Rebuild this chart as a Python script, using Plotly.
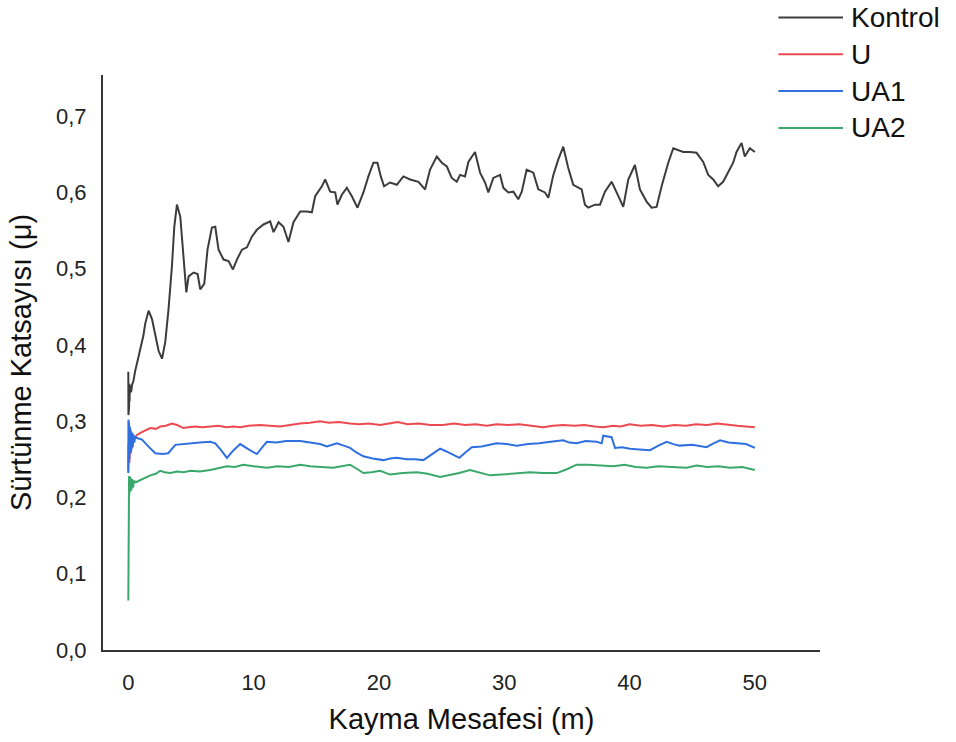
import plotly.graph_objects as go

# ---------------- data ----------------
kontrol_x = [0, 0.01, 0.02, 0.03, 0.04, 0.06, 0.08, 0.1, 0.12, 0.16, 0.2, 0.24, 0.3, 0.4, 0.55, 0.69, 0.82,
             0.96, 1.2, 1.35, 1.49, 1.62, 1.89, 2.15,
             2.42, 2.69, 2.95, 3.21, 3.48, 3.67, 3.88, 4.15, 4.36, 4.63, 4.81, 5.21, 5.53, 5.74, 6.06,
             6.32, 6.67, 6.94, 7.2, 7.6, 8.0, 8.35, 8.67, 9.07, 9.47, 9.86, 10.26, 10.79, 11.32, 11.59,
             11.99, 12.38, 12.78, 13.18, 13.72, 14.25, 14.65, 14.91, 15.45, 15.71, 16.11, 16.51, 16.69,
             17.04, 17.44, 17.84, 18.29, 18.76, 19.16, 19.56, 19.88, 20.15, 20.41, 20.89, 21.43, 21.95,
             22.49, 23.15, 23.68, 24.08, 24.62, 25.02, 25.42, 25.81, 26.21, 26.48, 26.87, 27.14, 27.67,
             28.07, 28.47, 28.73, 29.13, 29.67, 29.93, 30.33, 30.73, 31.12, 31.4, 31.79, 32.32, 32.72,
             33.25, 33.52, 33.92, 34.31, 34.71, 35.11, 35.51, 36.18, 36.44, 36.71, 37.24, 37.64, 38.04,
             38.57, 38.97, 39.5, 39.9, 40.43, 40.83, 41.36, 41.76, 42.16, 42.56, 43.09, 43.49, 44.28,
             44.82, 45.35, 45.88, 46.28, 46.68, 47.07, 47.47, 47.87, 48.27, 48.54, 48.94, 49.2, 49.6, 50.0]
kontrol_y = [0.365, 0.308, 0.356, 0.312, 0.345, 0.318, 0.349, 0.326, 0.345, 0.347, 0.338, 0.34, 0.348,
             0.352, 0.366, 0.378, 0.385, 0.395, 0.412, 0.428, 0.438, 0.445,
             0.434, 0.412, 0.392, 0.382, 0.404, 0.447, 0.503, 0.555, 0.584, 0.568, 0.522, 0.469, 0.49,
             0.495, 0.493, 0.473, 0.48, 0.525, 0.554, 0.555, 0.525, 0.512, 0.51, 0.499, 0.512, 0.525,
             0.528, 0.542, 0.551, 0.558, 0.562, 0.548, 0.561, 0.555, 0.535, 0.561, 0.575, 0.575, 0.574,
             0.595, 0.608, 0.617, 0.601, 0.6, 0.584, 0.597, 0.606, 0.595, 0.58, 0.6, 0.621, 0.639, 0.639,
             0.621, 0.608, 0.613, 0.61, 0.621, 0.617, 0.614, 0.604, 0.63, 0.647, 0.639, 0.634, 0.619,
             0.614, 0.623, 0.621, 0.64, 0.653, 0.626, 0.613, 0.6, 0.619, 0.623, 0.606, 0.6, 0.601, 0.591,
             0.601, 0.63, 0.626, 0.604, 0.6, 0.593, 0.623, 0.643, 0.66, 0.632, 0.61, 0.604, 0.584, 0.58,
             0.584, 0.584, 0.601, 0.614, 0.6, 0.581, 0.617, 0.636, 0.604, 0.588, 0.58, 0.581, 0.608,
             0.639, 0.658, 0.653, 0.653, 0.652, 0.64, 0.623, 0.617, 0.608, 0.614, 0.626, 0.639, 0.653,
             0.665, 0.647, 0.658, 0.653]

u_x = [0, 0.02, 0.04, 0.06, 0.08, 0.1, 0.13, 0.16, 0.2, 0.25, 0.3, 0.4, 0.5, 0.69, 1.0, 1.4, 1.75, 2.2,
       2.55, 3.0, 3.48, 3.9, 4.39, 4.8, 5.34, 5.9, 6.54, 7.2, 7.8, 8.4, 8.93, 9.6, 10.5, 11.2, 12.1, 12.9,
       13.7, 14.5, 15.3, 16.0, 16.8, 17.7, 18.4, 19.2, 20.1, 20.8, 21.5, 22.3, 23.2, 24.1, 25.1, 26.0,
       26.9, 27.7, 28.6, 29.4, 30.3, 31.2, 32.1, 33.1, 33.9, 34.7, 35.6, 36.4, 37.2, 37.9, 38.7, 39.3,
       40.0, 40.9, 41.8, 42.7, 43.6, 44.5, 45.3, 46.2, 47.0, 47.8, 48.6, 49.3, 50.0]
u_y = [0.235, 0.27, 0.24, 0.268, 0.245, 0.27, 0.252, 0.272, 0.258, 0.274, 0.265, 0.275, 0.278, 0.282,
       0.285, 0.288, 0.291, 0.29, 0.293, 0.294, 0.297, 0.295, 0.291, 0.292, 0.293, 0.292, 0.293, 0.294,
       0.292, 0.293, 0.292, 0.294, 0.295, 0.294, 0.293, 0.295, 0.297, 0.298, 0.3, 0.298, 0.299, 0.297,
       0.296, 0.297, 0.295, 0.297, 0.299, 0.296, 0.297, 0.295, 0.295, 0.297, 0.295, 0.296, 0.294, 0.296,
       0.295, 0.296, 0.294, 0.292, 0.294, 0.295, 0.294, 0.295, 0.293, 0.292, 0.294, 0.293, 0.296, 0.294,
       0.295, 0.293, 0.295, 0.294, 0.296, 0.295, 0.297, 0.295, 0.294, 0.293, 0.292]

ua1_x = [0, 0.01, 0.02, 0.03, 0.05, 0.06, 0.08, 0.1, 0.12, 0.15, 0.18, 0.2, 0.25, 0.3, 0.35, 0.4, 0.48,
         0.55, 0.69, 1.09, 1.6, 2.15, 2.7, 3.19, 3.75, 4.3, 4.94, 5.7, 6.54, 6.94, 7.4, 7.87, 8.4, 8.93,
         9.6, 10.26, 10.7, 11.06, 11.8, 12.6, 13.72, 14.6, 15.3, 15.85, 16.64, 17.2, 17.7, 18.2, 18.76,
         19.5, 20.36, 20.9, 21.43, 22.2, 22.9, 23.55, 24.2, 24.88, 25.3, 25.68, 26.42, 26.9, 27.41, 28.2,
         29.4, 30.2, 31.0, 31.9, 32.8, 33.7, 34.71, 35.2, 35.78, 36.5, 37.38, 37.78, 37.9, 38.57, 38.84,
         39.4, 40.03, 40.8, 41.63, 42.3, 42.96, 43.5, 44.0, 45.0, 46.15, 46.7, 47.23, 47.9, 48.54, 49.3,
         50.0]
ua1_y = [0.232, 0.302, 0.238, 0.3, 0.245, 0.296, 0.25, 0.293, 0.255, 0.29, 0.258, 0.288, 0.262, 0.285,
         0.266, 0.283, 0.272, 0.28, 0.278, 0.276, 0.267, 0.258, 0.257, 0.258, 0.269, 0.27, 0.271, 0.272,
         0.273, 0.271, 0.262, 0.252, 0.262, 0.27, 0.263, 0.257, 0.266, 0.273, 0.272, 0.274, 0.274, 0.272,
         0.27, 0.267, 0.271, 0.268, 0.265, 0.259, 0.254, 0.251, 0.249, 0.251, 0.252, 0.25, 0.25, 0.249,
         0.256, 0.264, 0.261, 0.258, 0.252, 0.259, 0.266, 0.267, 0.271, 0.27, 0.268, 0.27, 0.271, 0.273,
         0.275, 0.272, 0.271, 0.274, 0.273, 0.271, 0.281, 0.279, 0.265, 0.266, 0.264, 0.263, 0.262, 0.268,
         0.273, 0.27, 0.268, 0.269, 0.266, 0.271, 0.275, 0.272, 0.271, 0.27, 0.265]

ua2_x = [0, 0.01, 0.02, 0.03, 0.05, 0.06, 0.08, 0.1, 0.12, 0.15, 0.18, 0.2, 0.25, 0.3, 0.38, 0.45, 0.6,
         0.96, 1.4, 1.75, 2.2, 2.55, 2.9, 3.35, 3.9, 4.39, 5.0, 5.7, 6.54, 7.2, 7.87, 8.5, 9.17, 10.0,
         11.06, 11.9, 12.8, 13.72, 14.5, 15.4, 16.37, 17.0, 17.7, 18.2, 18.76, 19.4, 20.1, 20.89, 21.9,
         23.02, 23.9, 24.88, 25.6, 26.4, 27.27, 28.0, 28.87, 29.8, 30.9, 32.06, 33.1, 34.19, 35.0, 35.78,
         36.7, 37.7, 38.7, 39.6, 40.5, 41.36, 42.3, 43.4, 44.55, 45.35, 46.2, 47.1, 48.0, 49.0, 49.5, 50.0]
ua2_y = [0.065, 0.228, 0.196, 0.228, 0.2, 0.228, 0.203, 0.227, 0.205, 0.226, 0.208, 0.225, 0.21, 0.224,
         0.213, 0.222, 0.22, 0.223, 0.226, 0.229, 0.231, 0.235, 0.233, 0.232, 0.234, 0.233, 0.235, 0.234,
         0.236, 0.238, 0.241, 0.24, 0.243, 0.241, 0.239, 0.241, 0.24, 0.243, 0.241, 0.24, 0.239, 0.241,
         0.243, 0.238, 0.232, 0.233, 0.235, 0.23, 0.232, 0.233, 0.231, 0.227, 0.229, 0.232, 0.236, 0.233,
         0.229, 0.23, 0.231, 0.233, 0.232, 0.232, 0.237, 0.243, 0.243, 0.242, 0.241, 0.243, 0.24, 0.239,
         0.241, 0.24, 0.239, 0.242, 0.24, 0.241, 0.239, 0.24, 0.238, 0.236]

series_names = ["Kontrol", "U", "UA1", "UA2"]
series_colors = ["#3c3c3c", "#ec4a50", "#2f6fe0", "#3aa86a"]
x_ticks = [0, 10, 20, 30, 40, 50]
y_ticks = [0.0, 0.1, 0.2, 0.3, 0.4, 0.5, 0.6, 0.7]
x_title = "Kayma Mesafesi (m)"
y_title = "Sürtünme Katsayısı (μ)"

FONT = "Liberation Sans, Arial, sans-serif"

fig = go.Figure()
all_x = [kontrol_x, u_x, ua1_x, ua2_x]
all_y = [kontrol_y, u_y, ua1_y, ua2_y]
for name, color, xs, ys in zip(series_names, series_colors, all_x, all_y):
    fig.add_trace(go.Scatter(x=xs, y=ys, mode="lines", name=name,
                             line=dict(color=color, width=2), showlegend=False))

# custom legend (long line samples like the reference)
leg_y = [1.100, 1.036, 0.972, 0.908]
shapes = []
annotations = []
for name, color, yy in zip(series_names, series_colors, leg_y):
    shapes.append(dict(type="line", xref="paper", yref="paper", x0=0.942, x1=1.032, y0=yy, y1=yy,
                       line=dict(color=color, width=2)))
    annotations.append(dict(xref="paper", yref="paper", x=1.041, y=yy, text=name, showarrow=False,
                            xanchor="left", yanchor="middle", font=dict(family=FONT, size=28, color="#111")))

fig.update_layout(
    width=956, height=742,
    margin=dict(l=103, r=136, t=75, b=89),
    paper_bgcolor="white", plot_bgcolor="white",
    separators=",.",
    font=dict(family=FONT, color="#111"),
    shapes=shapes, annotations=annotations,
)
fig.update_xaxes(range=[-2.02, 55.2], tickvals=x_ticks, showgrid=False, zeroline=False,
                 showline=True, linecolor="#333", linewidth=2, ticks="", ticklabelstandoff=12,
                 tickfont=dict(family=FONT, size=22, color="#222"),
                 title=dict(text=x_title, font=dict(family=FONT, size=29, color="#111"), standoff=14))
fig.update_yaxes(range=[0, 0.754], tickvals=y_ticks, tickformat=".1f", showgrid=False, zeroline=False,
                 showline=True, linecolor="#333", linewidth=2, ticks="", ticklabelstandoff=10,
                 tickfont=dict(family=FONT, size=22, color="#222"),
                 title=dict(text=y_title, font=dict(family=FONT, size=29, color="#111"), standoff=16))

fig.write_html("out.html")
